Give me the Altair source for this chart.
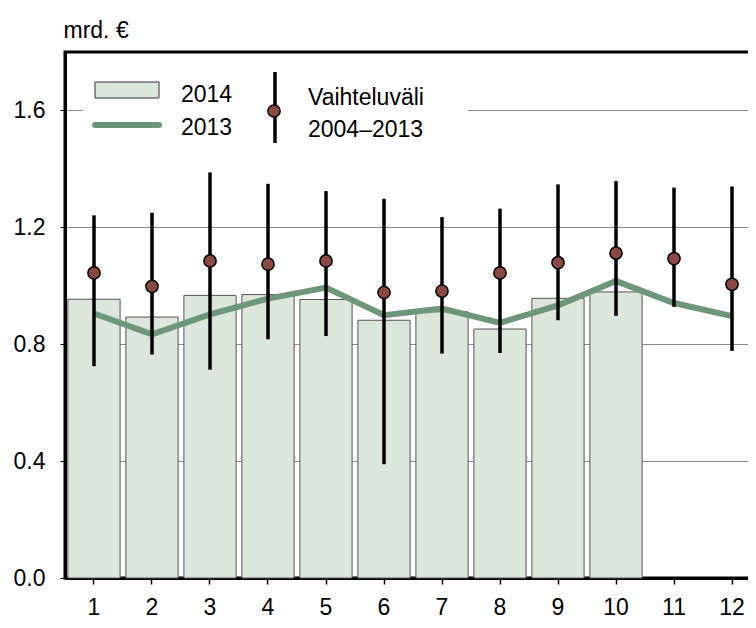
import altair as alt
import pandas as pd

months = [1, 2, 3, 4, 5, 6, 7, 8, 9, 10, 11, 12]
bars_2014 = [0.954, 0.893, 0.967, 0.970, 0.953, 0.882, 0.911, 0.852, 0.957, 0.979, None, None]
line_2013 = [0.905, 0.834, 0.902, 0.956, 0.994, 0.899, 0.922, 0.873, 0.933, 1.016, 0.941, 0.896]
range_mid = [1.044, 0.998, 1.085, 1.074, 1.085, 0.977, 0.982, 1.044, 1.079, 1.112, 1.093, 1.005]
range_lo = [0.725, 0.765, 0.713, 0.817, 0.828, 0.389, 0.768, 0.770, 0.882, 0.897, 0.928, 0.777]
range_hi = [1.241, 1.250, 1.388, 1.349, 1.324, 1.298, 1.235, 1.264, 1.347, 1.358, 1.336, 1.340]
y_ticks = [0.0, 0.4, 0.8, 1.2, 1.6]

FONT = "Liberation Sans"
FS = 23
BAR_FILL = "#dce7dc"
LINE_COL = "#6e967b"
DOT_COL = "#8b4741"

df = pd.DataFrame({
    "m": [str(m) for m in months],
    "b": bars_2014,
    "l": line_2013,
    "mid": range_mid,
    "lo": range_lo,
    "hi": range_hi,
})
order = [str(m) for m in months]

xenc = alt.X("m:N", sort=order,
             scale=alt.Scale(paddingInner=0.1, paddingOuter=0.05),
             axis=alt.Axis(title=None, labelAngle=0, labelFontSize=FS, labelFont=FONT,
                           labelColor="black", tickSize=6, tickColor="black", tickWidth=1.5,
                           labelPadding=12, domainColor="black", domainWidth=3, grid=False))
yscale = alt.Scale(domain=[0, 1.8], nice=False, zero=True)
yaxis = alt.Axis(values=y_ticks, format=".1f", title="mrd. €", titleAngle=0, titleAlign="left",
                 titleBaseline="alphabetic", titleX=-2, titleY=-15, titleFont=FONT,
                 titleFontSize=FS, titleFontWeight="normal", titleColor="black",
                 labelFont=FONT, labelFontSize=FS, labelColor="black", labelPadding=15,
                 tickSize=5, tickColor="black", tickWidth=1, domainColor="black",
                 domainWidth=3, grid=True, gridColor="#888888", gridWidth=1)

base = alt.Chart(df)
bars = base.mark_bar(fill=BAR_FILL, stroke="#555555", strokeWidth=1).encode(
    x=xenc, y=alt.Y("b:Q", scale=yscale, axis=yaxis))
line = base.mark_line(color=LINE_COL, strokeWidth=6, strokeJoin="miter").encode(
    x=alt.X("m:N", sort=order), y=alt.Y("l:Q"))
rules = base.mark_rule(color="black", strokeWidth=3.5).encode(
    x=alt.X("m:N", sort=order), y="lo:Q", y2="hi:Q")
dots = base.mark_point(filled=True, fill=DOT_COL, stroke="black", strokeWidth=1.5,
                       size=150, opacity=1, shape="circle").encode(
    x=alt.X("m:N", sort=order), y="mid:Q")

one = alt.Chart(pd.DataFrame({"k": [0]}))
leg_box = one.mark_rect(fill="white").encode(
    x=alt.value(18), x2=alt.value(403), y=alt.value(8), y2=alt.value(100))
leg_bar = one.mark_rect(fill=BAR_FILL, stroke="#333333", strokeWidth=1).encode(
    x=alt.value(30), x2=alt.value(94), y=alt.value(30), y2=alt.value(46))
leg_line = one.mark_rule(color=LINE_COL, strokeWidth=6, strokeCap="round").encode(
    x=alt.value(30), x2=alt.value(94), y=alt.value(73))
leg_rule = one.mark_rule(color="black", strokeWidth=3.5).encode(
    x=alt.value(210), y=alt.value(20), y2=alt.value(91))
leg_dot = one.mark_point(filled=True, fill=DOT_COL, stroke="black", strokeWidth=1.5,
                         size=150, opacity=1, shape="circle").encode(
    x=alt.value(209), y=alt.value(59))

leg_texts = pd.DataFrame({
    "t": ["2014", "2013", "Vaihteluväli", "2004–2013"],
    "px": [116, 116, 243, 243],
    "py": [50, 83, 53, 85],
})
leg_txt = alt.Chart(leg_texts).mark_text(font=FONT, fontSize=FS, align="left",
                                          baseline="alphabetic", color="black").encode(
    x=alt.X("px:Q", scale=None), y=alt.Y("py:Q", scale=None), text="t:N")

chart = alt.layer(bars, line, rules, dots, leg_box, leg_bar, leg_line, leg_rule, leg_dot,
                  leg_txt).properties(
    width=696, height=526,
    background="white",
    autosize=alt.AutoSizeParams(type="none"),
    padding={"left": 57, "top": 44, "right": -13, "bottom": 42},
).configure_view(stroke="black", strokeWidth=3)

chart.save("out.html", embed_options={"renderer": "svg", "actions": False})
